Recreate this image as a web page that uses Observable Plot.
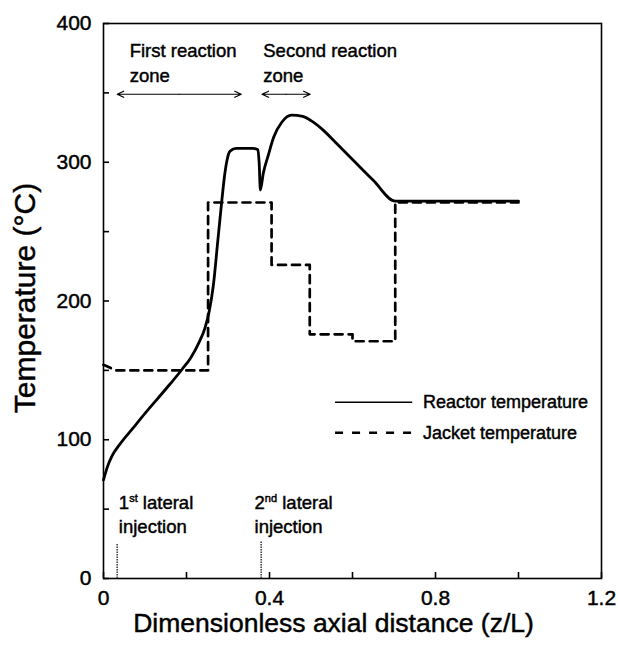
<!DOCTYPE html>
<html>
<head>
<meta charset="utf-8">
<script src="https://cdn.jsdelivr.net/npm/d3@7"></script>
<script src="https://cdn.jsdelivr.net/npm/@observablehq/plot@0.6"></script>
<style>
  html, body { margin: 0; padding: 0; background: #fff; }
  #chart svg { display: block; font-family: "Liberation Sans", Arial, sans-serif; }
  #chart svg text { stroke: black; stroke-width: 0.45px; }
  #chart svg .ticklab text { font-family: "Liberation Sans Narrow", "Arial Narrow", "Liberation Sans", Arial, sans-serif; }
</style>
</head>
<body>
<div id="chart"></div>
<script>
// Reactor temperature (solid)
const reactorX = [0, 0.01, 0.02, 0.04, 0.07, 0.1, 0.13, 0.16, 0.19, 0.21, 0.23, 0.245, 0.255, 0.265, 0.275, 0.285, 0.292, 0.298, 0.305, 0.32, 0.36, 0.372, 0.375, 0.378, 0.385, 0.397, 0.41, 0.43, 0.453, 0.48, 0.5, 0.53, 0.56, 0.6, 0.65, 0.703, 0.8, 0.9, 1.0];
const reactorY = [71, 81, 88, 97, 108, 119, 129.5, 140, 151, 159, 170, 181, 193, 212, 242, 272, 291, 302, 308, 310, 310, 309, 300, 280, 292, 305, 318, 329, 334, 333, 330, 323, 314, 302, 287, 272, 272, 272, 272];
// Jacket temperature (dashed)
const jacketX = [0, 0.03, 0.252, 0.252, 0.405, 0.405, 0.497, 0.497, 0.6, 0.6, 0.703, 0.703, 1.0];
const jacketY = [154, 150, 150, 271, 271, 226, 226, 176, 176, 171, 171, 271, 271];

// Axis ticks
const xTicks = [0, 0.2, 0.4, 0.6, 0.8, 1.0, 1.2];
const xTickLabels = [0, 0.4, 0.8, 1.2];
const yTicks = [0, 50, 100, 150, 200, 250, 300, 350, 400];
const yTickLabels = [0, 100, 200, 300, 400];

// Reaction zones (double arrows)
const zoneX1 = [0.033, 0.382];
const zoneX2 = [0.332, 0.498];
const zoneY = [349, 349];

// Lateral injection markers
const injX = [0.033, 0.38];
const injTop = [25, 27];

// Annotation texts
const annText = ["First reaction", "zone", "Second reaction", "zone", "1st lateral", "injection", "2nd lateral", "injection"];
const annX = [0.063, 0.063, 0.385, 0.385, 0.037, 0.037, 0.364, 0.364];
const annY = [380, 362, 380, 362, 54, 37, 54, 37];

// Legend
const legendLabels = ["Reactor temperature", "Jacket temperature"];
const legendX1 = [0.558, 0.558];
const legendX2 = [0.744, 0.744];
const legendY = [127, 105];
const legendTextX = 0.77;

const reactor = reactorX.map((x, i) => ({x, y: reactorY[i]}));
const jacket = jacketX.map((x, i) => ({x, y: jacketY[i]}));
const zones = zoneX1.map((x1, i) => ({x1, x2: zoneX2[i], y: zoneY[i], mid: (x1 + zoneX2[i]) / 2}));
const inj = injX.map((x, i) => ({x, top: injTop[i]}));
const ann = annText.map((t, i) => ({t, x: annX[i], y: annY[i]}));
const legend = legendLabels.map((t, i) => ({t, x1: legendX1[i], x2: legendX2[i], y: legendY[i], dash: i === 0 ? null : "8,9"}));

const W = 618, H = 648;
const mL = 103, mR = 17, mT = 23, mB = 70;
const pw = W - mL - mR, ph = H - mT - mB;

const chart = Plot.plot({
  width: W,
  height: H,
  marginLeft: mL,
  marginRight: mR,
  marginTop: mT,
  marginBottom: mB,
  style: {fontFamily: "Liberation Sans, Arial, sans-serif", color: "black", background: "white"},
  x: {domain: [0, 1.2], axis: null},
  y: {domain: [0, 400], axis: null},
  marks: [
    Plot.frame({stroke: "black", strokeWidth: 1.6}),
    // inside ticks
    Plot.tickX(xTicks, {x: d => d, insetTop: ph - 6, stroke: "black", strokeWidth: 1.6}),
    Plot.tickY(yTicks, {y: d => d, insetRight: pw - 6, stroke: "black", strokeWidth: 1.6}),
    // tick labels
    Plot.axisX(xTickLabels, {tickSize: 0, tickPadding: 12, fontSize: 21, tickFormat: d => d === 0 ? "0" : d.toFixed(1), label: null, className: "ticklab"}),
    Plot.axisY(yTickLabels, {tickSize: 0, tickPadding: 12, fontSize: 21, tickFormat: d => String(d), label: null, className: "ticklab"}),
    // axis titles
    Plot.text(["Dimensionless axial distance (z/L)"], {frameAnchor: "bottom", textAnchor: "middle", dx: -19, dy: 53, fontSize: 26.5, fill: "black"}),
    Plot.text(["Temperature (\u00B0C)"], {frameAnchor: "left", textAnchor: "middle", lineAnchor: "middle", rotate: -90, dx: -78, dy: -3, fontSize: 30, fill: "black"}),
    // injection markers
    Plot.ruleX(inj, {x: "x", y1: 0, y2: "top", stroke: "#444", strokeWidth: 1.6, strokeDasharray: "1.5,1"}),
    // zone arrows
    Plot.arrow(zones, {x1: "mid", x2: "x1", y1: "y", y2: "y", stroke: "black", strokeWidth: 1.2, headLength: 9, headAngle: 50}),
    Plot.arrow(zones, {x1: "mid", x2: "x2", y1: "y", y2: "y", stroke: "black", strokeWidth: 1.2, headLength: 9, headAngle: 50}),
    // annotations
    Plot.text(ann, {x: "x", y: "y", text: "t", textAnchor: "start", lineAnchor: "middle", fontSize: 18.5, fill: "black"}),
    // data lines
    Plot.line(jacket, {x: "x", y: "y", stroke: "black", strokeWidth: 2.7, strokeDasharray: "8,6"}),
    Plot.line(reactor, {x: "x", y: "y", stroke: "black", strokeWidth: 2.8, curve: "monotone-x"}),
    // legend
    Plot.link(legend.filter(d => !d.dash), {x1: "x1", x2: "x2", y1: "y", y2: "y", stroke: "black", strokeWidth: 1.6}),
    Plot.link(legend.filter(d => d.dash), {x1: "x1", x2: "x2", y1: "y", y2: "y", stroke: "black", strokeWidth: 2.6, strokeDasharray: "8,9"}),
    Plot.text(legend, {x: () => legendTextX, y: "y", text: "t", textAnchor: "start", lineAnchor: "middle", fontSize: 18, fill: "black"})
  ]
});

// superscripts for "1st" and "2nd"
d3.select(chart).selectAll("text").each(function () {
  const el = d3.select(this);
  const txt = this.textContent;
  const m = /^(\d)(st|nd) (.*)$/.exec(txt);
  if (m && this.childElementCount === 0) {
    el.text(null);
    el.append("tspan").text(m[1]);
    el.append("tspan").attr("dy", "-7").attr("font-size", "11").text(m[2]);
    el.append("tspan").attr("dy", "7").text(" " + m[3]);
  }
});

document.getElementById("chart").appendChild(chart);
</script>
</body>
</html>
